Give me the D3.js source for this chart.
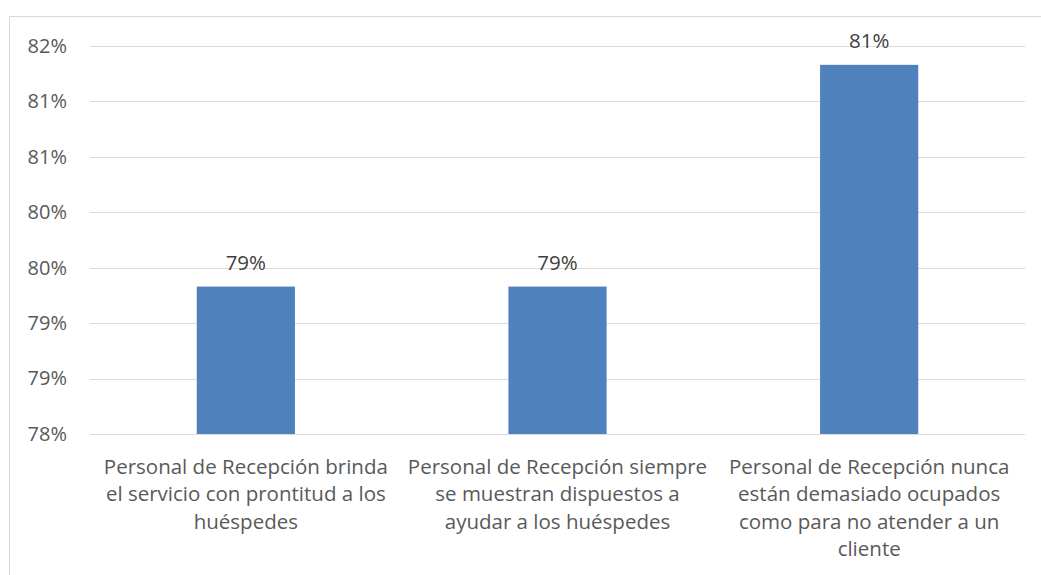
<!DOCTYPE html>
<html>
<head>
<meta charset="utf-8">
<script src="https://cdnjs.cloudflare.com/ajax/libs/d3/7.8.5/d3.min.js"></script>
<style>
  body { margin: 0; background: #fff; }
  svg { display: block; font-family: "Open Sans", "Liberation Sans", sans-serif; }
</style>
</head>
<body>
<div id="chart"></div>
<script>
// Categories (line breaks as in the original chart)
const categories = [
    'Personal de Recepción brinda\nel servicio con prontitud a los\nhuéspedes',
    'Personal de Recepción siempre\nse muestran dispuestos a\nayudar a los huéspedes',
    'Personal de Recepción nunca\nestán demasiado ocupados\ncomo para no atender a un\ncliente'
];
const values = [0.7933, 0.7933, 0.8133];
const yTicks = [0.78, 0.785, 0.79, 0.795, 0.80, 0.805, 0.81, 0.815];

const W = 1041, H = 575;
const margin = { top: 46, right: 16, bottom: 141, left: 90 };
const width = W - margin.left - margin.right;
const height = H - margin.top - margin.bottom;

const svg = d3.select('#chart').append('svg')
    .attr('width', W)
    .attr('height', H);

// Chart frame
svg.append('rect')
    .attr('x', 9.5).attr('y', 16.5)
    .attr('width', W - 9).attr('height', H)
    .attr('fill', 'none')
    .attr('stroke', '#d9d9d9');

const g = svg.append('g')
    .attr('transform', `translate(${margin.left},${margin.top})`);

const x = d3.scaleBand().domain(categories).range([0, width]).paddingInner(0.685).paddingOuter(0.3425);
const y = d3.scaleLinear().domain([0.78, 0.815]).range([height, 0]);

// Gridlines
g.selectAll('.grid')
    .data(yTicks)
    .enter().append('line')
    .attr('x1', 0).attr('x2', width)
    .attr('y1', d => Math.round(y(d)) + 0.5)
    .attr('y2', d => Math.round(y(d)) + 0.5)
    .attr('stroke', '#d9d9d9')
    .attr('stroke-width', 1);

// Y axis labels
const yAxis = g.append('g')
    .call(d3.axisLeft(y).tickValues(yTicks).tickFormat(d3.format('.0%')).tickSize(0).tickPadding(23));
yAxis.select('.domain').remove();
yAxis.selectAll('text')
    .attr('fill', '#595959')
    .style('font-size', '20px')
    .style('font-family', '"Open Sans", sans-serif');

// Bars
g.selectAll('.bar')
    .data(values)
    .enter().append('rect')
    .attr('x', (d, i) => x(categories[i]))
    .attr('y', d => y(d))
    .attr('width', x.bandwidth())
    .attr('height', d => height - y(d))
    .attr('fill', '#4f81bd');

// Data labels
g.selectAll('.label')
    .data(values)
    .enter().append('text')
    .attr('x', (d, i) => x(categories[i]) + x.bandwidth() / 2)
    .attr('y', d => y(d) - 17)
    .attr('text-anchor', 'middle')
    .attr('fill', '#404040')
    .style('font-size', '20.5px')
    .text(d => d3.format('.0%')(d));

// Category labels
const step = width / categories.length;
categories.forEach((c, i) => {
    const t = g.append('text')
        .attr('x', step * (i + 0.5))
        .attr('y', height + 40)
        .attr('text-anchor', 'middle')
        .attr('fill', '#595959')
        .style('font-size', '20.5px');
    c.split('\n').forEach((line, j) => {
        t.append('tspan')
            .attr('x', step * (i + 0.5))
            .attr('dy', j === 0 ? 0 : 27.3)
            .text(line);
    });
});
</script>
</body>
</html>
